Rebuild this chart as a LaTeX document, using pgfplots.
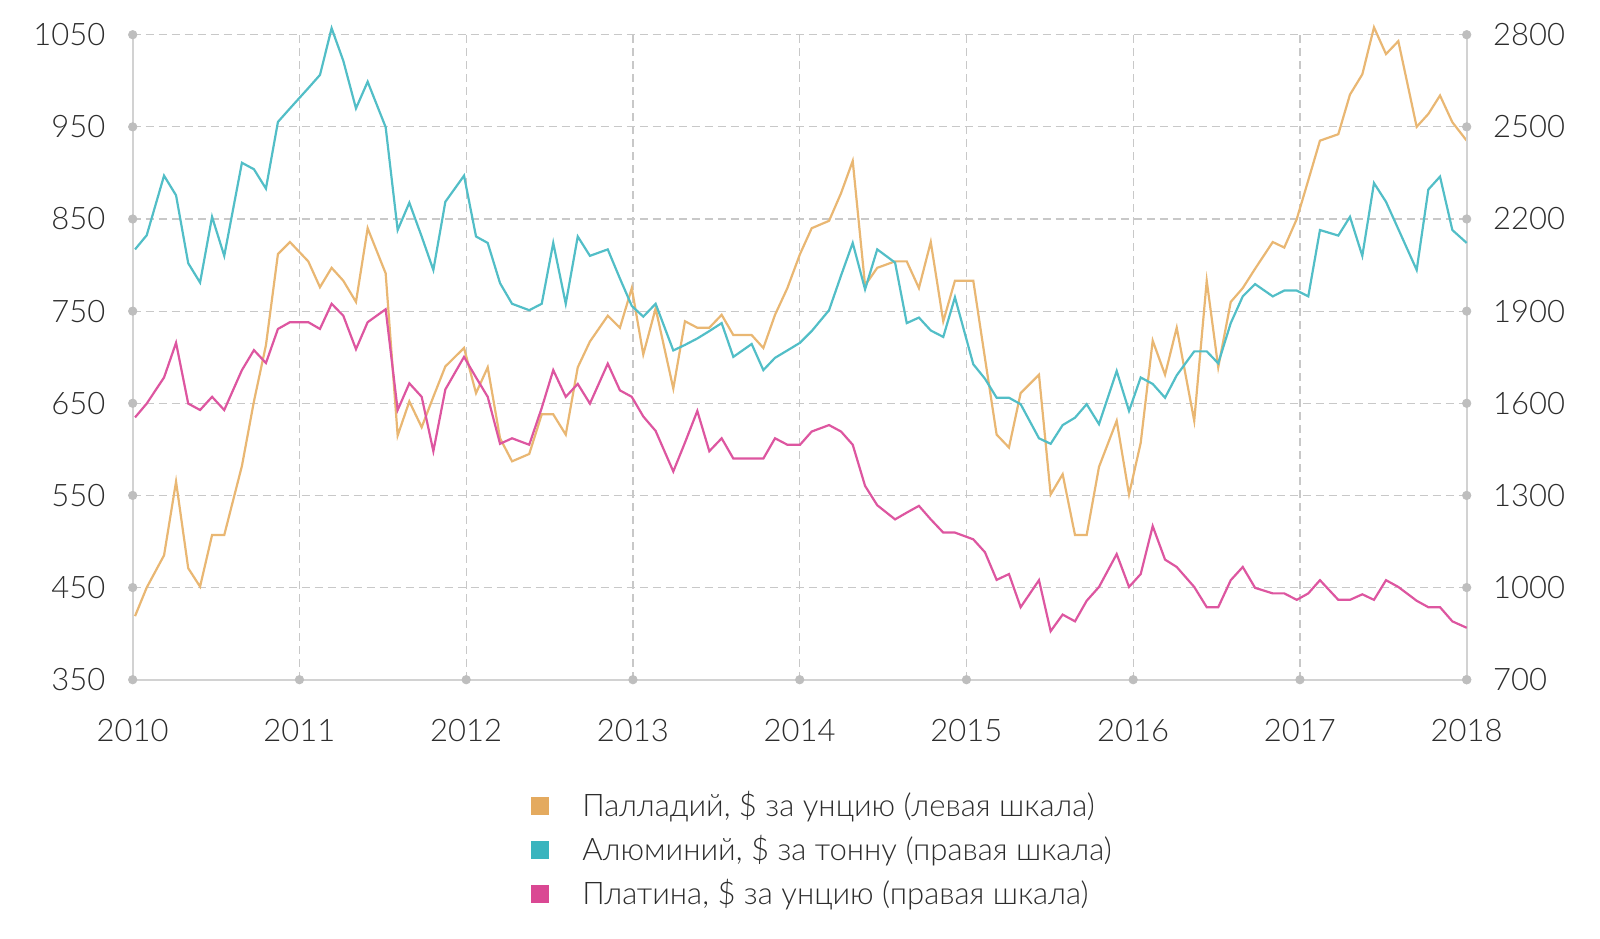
\documentclass[border=0pt]{standalone}
\usepackage{fontspec}
\setmainfont{Lato}[UprightFont={* Light}]
\usepackage{pgfplots}
\usepackage{pgfplotstable}
\pgfplotsset{compat=1.18}

\definecolor{pdc}{RGB}{233,183,115}
\definecolor{alc}{RGB}{82,190,199}
\definecolor{ptc}{RGB}{221,86,160}
\definecolor{pdl}{RGB}{228,170,95}
\definecolor{all}{RGB}{58,180,190}
\definecolor{ptl}{RGB}{218,72,147}
\definecolor{gridgray}{RGB}{200,200,200}
\definecolor{axisgray}{RGB}{210,210,210}
\definecolor{dotgray}{RGB}{190,190,190}
\definecolor{labelgray}{RGB}{45,45,45}

\pgfplotstableread{
x pd al pt
2010.014 419 2101 1554
2010.084 450 2147 1599
2010.188 485 2341 1684
2010.260 565 2277 1797
2010.333 471 2056 1599
2010.404 451 1993 1578
2010.476 507 2207 1621
2010.549 507 2080 1578
2010.655 582 2383 1708
2010.727 652 2362 1773
2010.799 713 2299 1731
2010.871 812 2516 1842
2010.943 825 2560 1864
2011.053 804 2626 1864
2011.123 776 2669 1842
2011.193 797 2821 1924
2011.263 783 2715 1885
2011.339 760 2560 1776
2011.409 840 2647 1864
2011.517 791 2499 1906
2011.589 615 2164 1578
2011.659 652 2253 1665
2011.733 624 2143 1621
2011.803 657 2034 1444
2011.875 690 2256 1645
2011.987 710 2341 1751
2012.059 661 2143 1684
2012.129 689 2122 1621
2012.203 612 1991 1468
2012.275 587 1924 1486
2012.378 595 1903 1465
2012.453 638 1924 1585
2012.522 638 2122 1708
2012.597 616 1924 1621
2012.669 689 2143 1663
2012.742 717 2080 1599
2012.849 745 2101 1729
2012.922 732 2006 1642
2012.993 775 1917 1621
2013.062 703 1882 1557
2013.136 753 1924 1510
2013.242 666 1772 1378
2013.312 739 1790 1472
2013.386 732 1811 1575
2013.458 732 1835 1444
2013.532 746 1861 1486
2013.602 724 1751 1420
2013.712 724 1793 1420
2013.782 710 1708 1420
2013.852 746 1748 1486
2013.926 775 1772 1465
2014.002 812 1797 1465
2014.072 840 1835 1508
2014.176 848 1903 1529
2014.248 878 2016 1508
2014.318 913 2122 1465
2014.392 778 1971 1331
2014.465 797 2101 1268
2014.572 804 2058 1222
2014.642 804 1861 1244
2014.715 775 1879 1266
2014.786 825 1837 1222
2014.861 739 1816 1179
2014.931 783 1945 1179
2015.041 783 1727 1157
2015.111 699 1680 1115
2015.181 616 1618 1025
2015.255 602 1618 1044
2015.325 661 1597 936
2015.435 681 1486 1024
2015.505 551 1468 858
2015.577 573 1529 912
2015.651 507 1553 890
2015.721 507 1597 957
2015.795 581 1532 1002
2015.901 631 1705 1109
2015.975 551 1575 1002
2016.045 607 1684 1044
2016.117 718 1663 1200
2016.191 681 1618 1091
2016.261 732 1691 1067
2016.366 631 1769 1002
2016.441 783 1769 936
2016.510 689 1730 936
2016.585 760 1861 1024
2016.657 775 1948 1067
2016.731 796 1988 999
2016.837 825 1948 981
2016.906 819 1967 981
2016.981 850 1967 960
2017.050 892 1948 981
2017.120 935 2164 1024
2017.230 942 2146 960
2017.300 985 2207 960
2017.374 1007 2080 978
2017.444 1058 2317 960
2017.516 1029 2256 1024
2017.590 1043 2167 1002
2017.700 950 2034 957
2017.770 964 2296 936
2017.840 984 2338 936
2017.914 955 2164 890
2018.000 935 2122 869
}\metals

\newcommand{\lblfont}{\fontsize{15.5}{18}\selectfont}
\newcommand{\legfont}{\fontsize{15.55}{18}\selectfont}

\begin{document}
\begin{tikzpicture}
\path[use as bounding box] (-66.35pt,-129.2pt) rectangle (733.65pt,339.85pt);
\begin{axis}[
  at={(0,0)}, anchor=south west,
  scale only axis, width=667pt, height=322.5pt,
  xmin=2010, xmax=2018, ymin=350, ymax=1050,
  axis x line*=bottom, axis y line*=left,
  axis line style={draw=axisgray, line width=1pt},
  xtick={2010,2011,2012,2013,2014,2015,2016,2017,2018},
  xticklabels={2010,2011,2012,2013,2014,2015,2016,2017,2018},
  ytick={350,450,550,650,750,850,950,1050},
  yticklabels={350,450,550,650,750,850,950,1050},
  major tick length=0pt, tick style={draw=none},
  grid=major,
  major grid style={draw=gridgray, line width=0.6pt, dash pattern=on 4pt off 2.5pt},
  tick label style={font=\lblfont, text=labelgray, inner sep=0pt},
  yticklabel style={anchor=east, xshift=-13.5pt},
  xticklabel style={anchor=base, yshift=-31pt},
  clip=false,
  legend style={draw=none, fill=none, at={(0.2940,-0.1712)}, anchor=north west,
    font=\legfont, text=labelgray, row sep=7pt,
    nodes={inner sep=0pt, text height=11pt, text depth=4pt},
    /tikz/column sep=0pt},
  legend cell align=left,
  legend image code/.code={\fill[#1] (0pt,-2.5pt) rectangle (9pt,6.5pt); \path (25.5pt,0pt);},
]
\addplot[only marks, mark=*, mark size=2.1pt, dotgray, forget plot] coordinates {
 (2010,350) (2010,450) (2010,550) (2010,650) (2010,750) (2010,850) (2010,950) (2010,1050)
 (2011,350) (2012,350) (2013,350) (2014,350) (2015,350) (2016,350) (2017,350) (2018,350)};
\addplot[pdc, line width=1.1pt, forget plot] table[x=x, y=pd] {\metals};
\addlegendimage{fill=pdl, draw=none}
\addlegendentry{Палладий, \$ за унцию (левая шкала)}
\addlegendimage{fill=all, draw=none}
\addlegendentry{Алюминий, \$ за тонну (правая шкала)}
\addlegendimage{fill=ptl, draw=none}
\addlegendentry{Платина, \$ за унцию (правая шкала)}
\end{axis}
\begin{axis}[
  at={(0,0)}, anchor=south west,
  scale only axis, width=667pt, height=322.5pt,
  xmin=2010, xmax=2018, ymin=700, ymax=2800,
  axis x line=none, axis y line*=right,
  axis line style={draw=axisgray, line width=1pt},
  ytick={700,1000,1300,1600,1900,2200,2500,2800},
  yticklabels={700,1000,1300,1600,1900,2200,2500,2800},
  major tick length=0pt, tick style={draw=none},
  tick label style={font=\lblfont, text=labelgray, inner sep=0pt},
  yticklabel style={anchor=west, xshift=13pt},
  clip=false,
]
\addplot[only marks, mark=*, mark size=2.1pt, dotgray] coordinates {
 (2018,700) (2018,1000) (2018,1300) (2018,1600) (2018,1900) (2018,2200) (2018,2500) (2018,2800)};
\addplot[alc, line width=1.1pt] table[x=x, y=al] {\metals};
\addplot[ptc, line width=1.1pt] table[x=x, y=pt] {\metals};
\end{axis}
\end{tikzpicture}
\end{document}
